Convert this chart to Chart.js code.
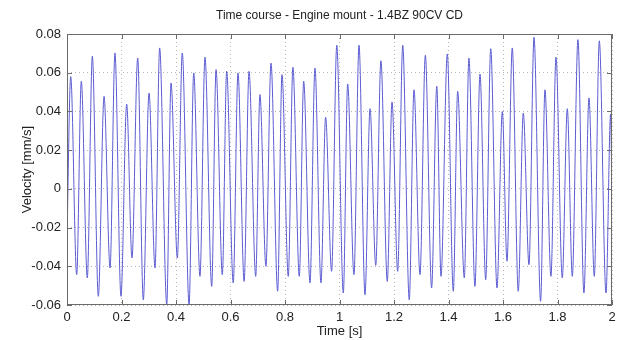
<!DOCTYPE html>
<html>
<head>
<meta charset="utf-8">
<script src="https://cdn.jsdelivr.net/npm/chart.js@4/dist/chart.umd.min.js"></script>
<style>
    body { margin: 0; background: #fff; }
    canvas { display: block; }
</style>
</head>
<body>
<canvas id="timeChart" width="629" height="340"></canvas>
<script>
// peaks and troughs
const times = [
    0, 0.0136, 0.0356, 0.0525, 0.0745, 0.093, 0.115, 0.136, 0.158, 0.176,
    0.198, 0.219, 0.2385, 0.2594, 0.28, 0.301, 0.323, 0.34, 0.366, 0.3817,
    0.405, 0.423, 0.448, 0.465, 0.488, 0.5064, 0.531, 0.547, 0.57, 0.586,
    0.61, 0.6275, 0.65, 0.668, 0.6925, 0.708, 0.73, 0.7486, 0.773, 0.789,
    0.812, 0.829, 0.8525, 0.8686, 0.8917, 0.91, 0.932, 0.949, 0.971, 0.99,
    1.014, 1.03, 1.053, 1.0716, 1.0936, 1.112, 1.133, 1.152, 1.1754, 1.1927,
    1.2135, 1.232, 1.256, 1.2734, 1.2954, 1.315, 1.338, 1.357, 1.3725, 1.3956,
    1.4176, 1.4336, 1.458, 1.475, 1.497, 1.5156, 1.5365, 1.555, 1.578, 1.5975,
    1.6147, 1.634, 1.656, 1.6745, 1.6954, 1.7138, 1.738, 1.754, 1.776, 1.7945,
    1.8175, 1.836, 1.8543, 1.875, 1.897, 1.9156, 1.935, 1.9534, 1.978, 1.995,
    2,
];
const velocity = [
    -0.025, 0.058, -0.0443, 0.0556, -0.046, 0.0685, -0.0555, 0.0478, -0.0409, 0.0702,
    -0.0555, 0.0438, -0.0357, 0.0676, -0.0573, 0.0495, -0.0409, 0.0728, -0.0598, 0.0547,
    -0.0357, 0.0702, -0.0598, 0.0599, -0.0452, 0.068, -0.0504, 0.0616, -0.0443, 0.0607,
    -0.0486, 0.0599, -0.0478, 0.0607, -0.0452, 0.0487, -0.04, 0.065, -0.0529, 0.059,
    -0.0452, 0.0628, -0.0452, 0.0556, -0.0486, 0.0624, -0.0486, 0.037, -0.0426, 0.0742,
    -0.0538, 0.0542, -0.0443, 0.0742, -0.0547, 0.0414, -0.0395, 0.0662, -0.0478, 0.0449,
    -0.0426, 0.0742, -0.0573, 0.0512, -0.0443, 0.069, -0.0512, 0.053, -0.0452, 0.0697,
    -0.0529, 0.0504, -0.046, 0.0676, -0.0504, 0.0593, -0.0469, 0.0724, -0.0512, 0.04,
    -0.0374, 0.0728, -0.0529, 0.0392, -0.0392, 0.0783, -0.0581, 0.0512, -0.0452, 0.068,
    -0.046, 0.0414, -0.0452, 0.0771, -0.0538, 0.047, -0.0452, 0.0765, -0.0538, 0.0387,
    -0.01,
];

const xTicks = [0, 0.2, 0.4, 0.6, 0.8, 1, 1.2, 1.4, 1.6, 1.8, 2];
const yTicks = [-0.06, -0.04, -0.02, 0, 0.02, 0.04, 0.06, 0.08];
const chartTitle = 'Time course - Engine mount - 1.4BZ 90CV CD';

const points = times.map((t, i) => ({ x: t, y: velocity[i] }));

const font = { family: 'Liberation Sans, Arial, sans-serif', size: 13 };

// axes box with small inward ticks, matlab style, title centred over the axes
const boxPlugin = {
    id: 'box',
    afterDatasetsDraw(chart) {
        const { ctx, chartArea: a, scales } = chart;
        ctx.save();
        ctx.strokeStyle = '#6b6b6b';
        ctx.lineWidth = 1;
        ctx.strokeRect(a.left + 0.5, a.top + 0.5, a.right - a.left - 1, a.bottom - a.top - 1);
        ctx.beginPath();
        xTicks.forEach(v => {
            const px = Math.round(scales.x.getPixelForValue(v)) + 0.5;
            ctx.moveTo(px, a.bottom); ctx.lineTo(px, a.bottom - 5);
            ctx.moveTo(px, a.top); ctx.lineTo(px, a.top + 5);
        });
        yTicks.forEach(v => {
            const py = Math.round(scales.y.getPixelForValue(v)) + 0.5;
            ctx.moveTo(a.left, py); ctx.lineTo(a.left + 5, py);
            ctx.moveTo(a.right, py); ctx.lineTo(a.right - 5, py);
        });
        ctx.stroke();

        ctx.fillStyle = '#222';
        ctx.font = '12px ' + font.family;
        ctx.textAlign = 'center';
        ctx.textBaseline = 'middle';
        ctx.fillText(chartTitle, (a.left + a.right) / 2, a.top - 18);
        ctx.restore();
    },
};

new Chart(document.querySelector('#timeChart'), {
    type: 'scatter',
    data: {
        datasets: [
            {
                data: points,
                showLine: true,
                borderColor: '#5c5cd2',
                borderWidth: 1,
                pointRadius: 0,
                cubicInterpolationMode: 'monotone',
            },
        ],
    },
    options: {
        responsive: false,
        animation: false,
        devicePixelRatio: 1,
        layout: { padding: { left: 0, right: 17, top: 34, bottom: 0 } },
        plugins: {
            legend: { display: false },
            tooltip: { enabled: false },
            title: { display: false },
        },
        scales: {
            x: {
                type: 'linear',
                min: 0,
                max: 2,
                afterBuildTicks(scale) {
                    scale.ticks = xTicks.map(v => ({ value: v }));
                },
                afterFit(scale) {
                    scale.height = 35;
                },
                ticks: {
                    color: '#222',
                    font: font,
                    padding: 5,
                    maxRotation: 0,
                    callback: v => String(Math.round(v * 10) / 10),
                },
                grid: {
                    color: '#b5b5b5',
                    drawTicks: false,
                },
                border: { display: false, dash: [1, 3] },
                title: {
                    display: true,
                    text: 'Time [s]',
                    color: '#222',
                    font: font,
                    padding: { top: 0, bottom: 1 },
                },
            },
            y: {
                type: 'linear',
                min: -0.06,
                max: 0.08,
                afterBuildTicks(scale) {
                    scale.ticks = yTicks.map(v => ({ value: v }));
                },
                afterFit(scale) {
                    scale.width = 67;
                },
                ticks: {
                    color: '#222',
                    font: font,
                    padding: 6,
                    callback: v => String(Math.round(v * 100) / 100),
                },
                grid: {
                    color: '#b5b5b5',
                    drawTicks: false,
                },
                border: { display: false, dash: [1, 3] },
                title: {
                    display: true,
                    text: 'Velocity [mm/s]',
                    color: '#222',
                    font: font,
                    padding: { top: 20, bottom: 0 },
                },
            },
        },
    },
    plugins: [boxPlugin],
});
</script>
</body>
</html>
